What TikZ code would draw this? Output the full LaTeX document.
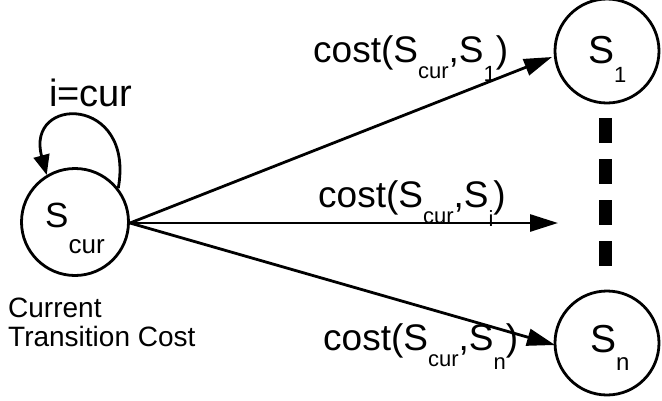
\documentclass[tikz,border=0pt]{standalone}
\usepackage{fontspec}
\setmainfont{Liberation Sans}
\usetikzlibrary{arrows.meta}
\newcommand\lsub[3]{\smash{\raisebox{-#1}{\fontsize{#2}{#2}\selectfont #3}}}
\tikzset{
  statecirc/.style={draw, circle, line width=2.8pt, minimum size=#1, inner sep=0pt},
  arr/.style={line width=2.8pt, -{Triangle[length=28pt,width=17pt]}},
  looparr/.style={line width=2.8pt, -{Triangle[length=20pt,width=16pt]}},
  costlbl/.style={font=\fontsize{37}{37}\selectfont, anchor=base west, inner sep=0pt},
  statelbl/.style={anchor=base west, inner sep=0pt},
  dashline/.style={line width=13pt, dash pattern=on 25pt off 16pt}
}
\begin{document}
\begin{tikzpicture}[x=1pt,y=-1pt]
\useasboundingbox (0,0) rectangle (662,400);
% states
\node[statecirc=107pt] (scur) at (75,222) {};
\node[statecirc=104pt] (s1) at (607,51) {};
\node[statecirc=104pt] (sn) at (607,343) {};
\node[statelbl, font=\fontsize{35}{35}\selectfont] (scurtxt) at (45,227) {S\lsub{26pt}{26}{cur}};
\node[statelbl, font=\fontsize{39}{39}\selectfont] (s1txt) at (588,63) {S\lsub{19pt}{22}{1}};
\node[statelbl, font=\fontsize{39}{39}\selectfont] (sntxt) at (590,352) {S\lsub{18pt}{24}{n}};
% self loop
\draw[looparr] (scur.38) .. controls (135,95) and (25,95) .. (scur.121);
\node[anchor=base west, inner sep=0pt, font=\fontsize{38}{38}\selectfont] (icur) at (49,106) {i=cur};
% arrows
\coordinate (src) at (130,223);
\coordinate (iend) at (558,223);
\coordinate (s1in) at (552,57);
\coordinate (snin) at (555,345);
\draw[arr] (src) -- (s1in);
\draw[arr] (src) -- (iend);
\draw[arr] (src) -- (snin);
% dashes
\coordinate (dtop) at (605.5,118);
\coordinate (dbot) at (605.5,266);
\draw[dashline] (dtop) -- (dbot);
% labels
\node[costlbl] (c1) at (313,62) {cost(S\lsub{16pt}{22}{cur},S\lsub{19pt}{22}{1})};
\node[costlbl] (ci) at (318,207) {cost(S\lsub{16pt}{22}{cur},S\lsub{19pt}{22}{i})};
\node[costlbl] (cn) at (323,350) {cost(S\lsub{16pt}{22}{cur},S\lsub{19pt}{22}{n})};
\node[anchor=base west, inner sep=0pt, align=left, font=\fontsize{28}{29}\selectfont] (ctc) at (8,346) {Current\\Transition Cost};
\end{tikzpicture}
\end{document}
